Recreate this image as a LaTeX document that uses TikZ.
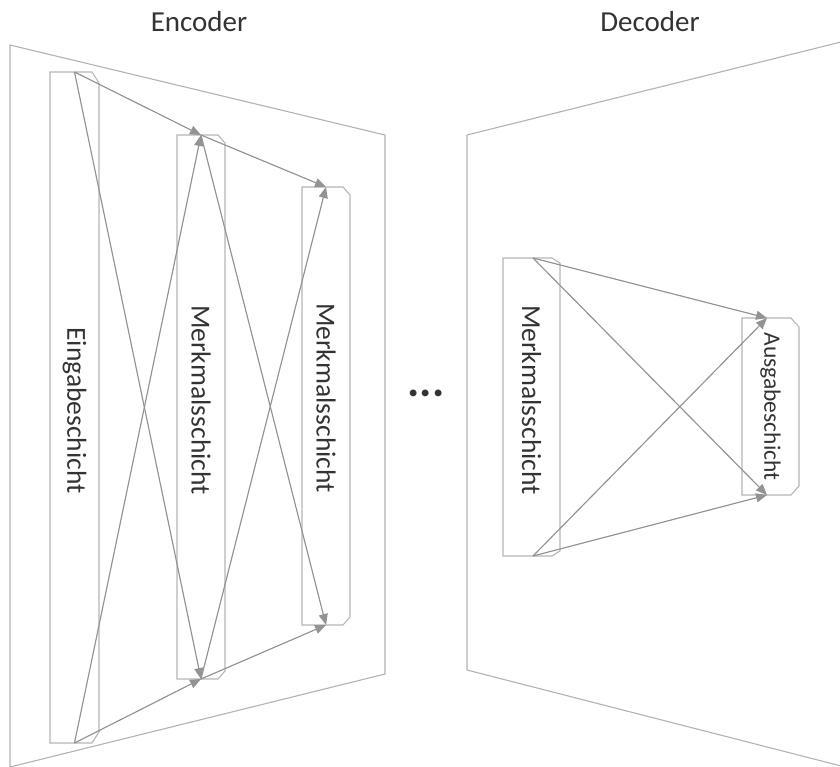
\documentclass[tikz,border=0pt]{standalone}
\usepackage{fontspec}
\setmainfont{Carlito}
\usetikzlibrary{arrows.meta}

\definecolor{framegray}{HTML}{B2B2B2}
\definecolor{boxgray}{HTML}{B6B6B6}
\definecolor{wiregray}{HTML}{939393}
\definecolor{inkgray}{HTML}{333333}

\tikzset{
  layer/.style={inner sep=0pt, outer sep=0pt},
  boxstroke/.style={draw=boxgray, line width=1.1pt, line join=miter},
  framestroke/.style={draw=framegray, line width=1.1pt},
  wire/.style={draw=wiregray, line width=1.15pt,
    -{Triangle[length=11pt,width=9pt]}, fill=wiregray},
  layertext/.style={rotate=-90, text=inkgray, inner sep=0pt,
    font=\fontsize{27.5}{27.5}\selectfont},
  smalltext/.style={rotate=-90, text=inkgray, inner sep=0pt,
    font=\fontsize{23.5}{23.5}\selectfont},
  headtext/.style={text=inkgray, inner sep=0pt,
    font=\fontsize{29}{29}\selectfont},
}

% outline of a layer box with snipped right-hand corners
\newcommand\layeroutline[3]{%
  \draw[boxstroke] (#1.north west) -- ([xshift=-#2]#1.north east)
    -- ([yshift=-#3]#1.north east) -- ([yshift=#3]#1.south east)
    -- ([xshift=-#2]#1.south east) -- (#1.south west) -- cycle;}

\begin{document}
\begin{tikzpicture}[x=1pt,y=-1pt]
  \useasboundingbox (0,0) rectangle (840,766);

  % encoder and decoder frames
  \draw[framestroke] (10,45) -- (385,135) -- (385,674) -- (10,767) -- cycle;
  \draw[framestroke] (845,41) -- (467,135) -- (467,670) -- (845,767);

  % headings
  \node[headtext] (enc) at (199,22) {Encoder};
  \node[headtext] (dec) at (650,22) {Decoder};

  % encoder layers
  \node[layer, minimum width=49pt, minimum height=671pt] (in) at (74.5,407.5) {};
  \node[layer, minimum width=48pt, minimum height=544pt] (f1) at (201,407) {};
  \node[layer, minimum width=48pt, minimum height=438pt] (f2) at (326,406) {};
  \layeroutline{in}{7pt}{11pt}
  \layeroutline{f1}{7pt}{8pt}
  \layeroutline{f2}{7pt}{8pt}
  \node[layertext] (inlabel) at ([yshift=-3pt]in.center) {Eingabeschicht};
  \node[layertext] (f1label) at ([yshift=7pt]f1.center) {Merkmalsschicht};
  \node[layertext] (f2label) at ([yshift=8pt]f2.center) {Merkmalsschicht};

  % decoder layers
  \node[layer, minimum width=57pt, minimum height=298pt] (f3) at (531.5,407) {};
  \node[layer, minimum width=57pt, minimum height=177pt] (out) at (770.5,406.5) {};
  \layeroutline{f3}{8pt}{5pt}
  \layeroutline{out}{8pt}{9pt}
  \node[layertext] (f3label) at ([yshift=7pt]f3.center) {Merkmalsschicht};
  \node[smalltext] (outlabel) at (out.center) {Ausgabeschicht};

  % ellipsis between the two halves
  \node[text=inkgray, inner sep=0pt, font=\fontsize{46}{46}\selectfont\bfseries]
    (gap) at (426,393) {...};

  % encoder connections
  \draw[wire] (in.north) -- (f1.north);
  \draw[wire] (in.north) -- (f1.south);
  \draw[wire] (in.south) -- (f1.north);
  \draw[wire] (in.south) -- (f1.south);
  \draw[wire] (f1.north) -- (f2.north);
  \draw[wire] (f1.north) -- (f2.south);
  \draw[wire] (f1.south) -- (f2.north);
  \draw[wire] (f1.south) -- (f2.south);

  % decoder connections
  \draw[wire] ([xshift=1.5pt]f3.north) -- ([xshift=-3.5pt]out.north);
  \draw[wire] ([xshift=1.5pt]f3.north) -- ([xshift=-3.5pt]out.south);
  \draw[wire] ([xshift=1.5pt]f3.south) -- ([xshift=-3.5pt]out.north);
  \draw[wire] ([xshift=1.5pt]f3.south) -- ([xshift=-3.5pt]out.south);
\end{tikzpicture}
\end{document}
